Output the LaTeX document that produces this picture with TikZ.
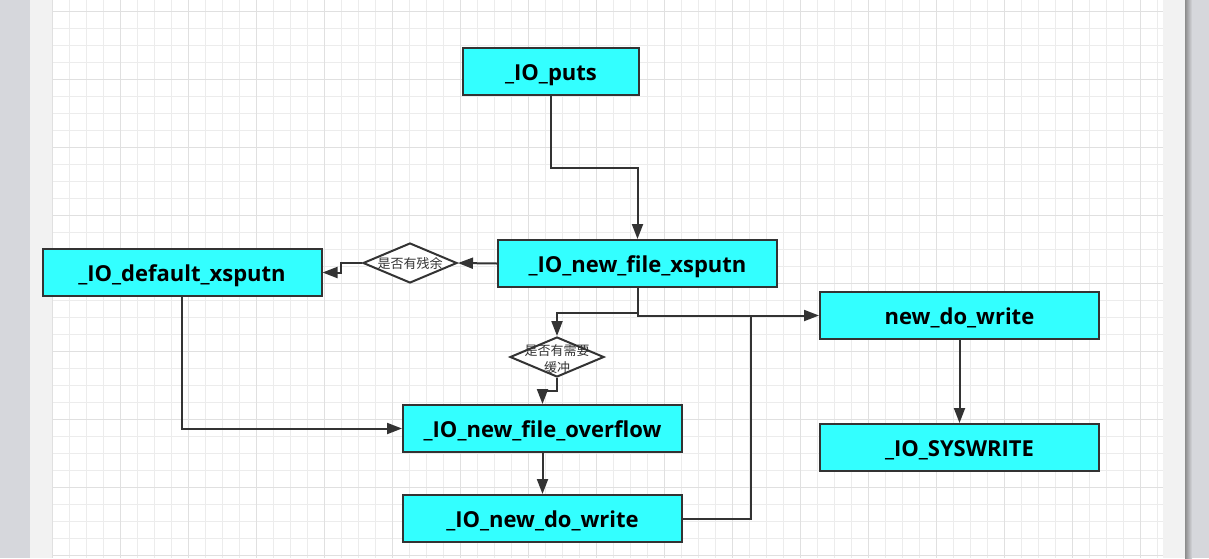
\documentclass[tikz,border=0pt]{standalone}
\usepackage{fontspec}
\setmainfont{Open Sans}
\newfontfamily\cjk{Noto Sans CJK SC}
\usetikzlibrary{shapes.geometric,arrows.meta,calc}
\definecolor{boxfill}{RGB}{51,255,255}
\definecolor{linec}{RGB}{51,51,51}
\definecolor{gridminor}{RGB}{236,236,236}
\definecolor{gridmajor}{RGB}{224,224,224}
\definecolor{sidegray}{RGB}{214,215,220}
\definecolor{strip}{RGB}{242,242,242}
\tikzset{
  fnbox/.style={draw=linec, line width=2pt, fill=boxfill, minimum height=47pt, minimum width=279pt, inner sep=0pt, text height=18pt, text depth=0pt, font=\fontsize{22}{26}\selectfont\bfseries, text=black},
  decision/.style={draw=linec, line width=2pt, fill=white, diamond, minimum width=94pt, minimum height=40pt, inner sep=0pt},
  dlabel/.style={font=\cjk\fontsize{13}{17}\selectfont, text=linec, align=center, inner sep=0pt},
  conn/.style={draw=linec, line width=2pt},
  arr/.style={conn, -{Triangle[length=15pt,width=11pt]}},
}
\begin{document}
\begin{tikzpicture}[x=1pt,y=-1pt]
\useasboundingbox (0,0) rectangle (1209,558);
% background
\fill[sidegray] (0,0) rectangle (30,558);
\fill[strip] (30,0) rectangle (52,558);
\fill[white] (52,0) rectangle (1163,558);
\fill[strip] (1163,0) rectangle (1185,558);
\fill[sidegray] (1185,0) rectangle (1209,558);
\shade[left color=black!45, right color=sidegray] (1185,0) rectangle (1192,558);
% grid
\foreach \i in {0,...,65} {\draw[gridminor, line width=1pt] ({52+17*\i},0) -- ({52+17*\i},558);}
\foreach \j in {0,...,32} {\draw[gridminor, line width=1pt] (52,{11+17*\j}) -- (1163,{11+17*\j});}
\foreach \i in {0,4,...,64} {\draw[gridmajor, line width=1pt] ({52+17*\i},0) -- ({52+17*\i},558);}
\foreach \j in {0,4,...,32} {\draw[gridmajor, line width=1pt] (52,{11+17*\j}) -- (1163,{11+17*\j});}
% nodes
\node[fnbox, minimum width=176pt] (puts) at (551,71.5) {\_IO\_puts};
\node[fnbox] (xsputn) at (637.5,263.5) {\_IO\_new\_file\_xsputn};
\node[fnbox] (default) at (182,272.5) {\_IO\_default\_xsputn};
\node[decision] (d1) at (410,263) {};
\node[dlabel] (d1t) at (d1.center) {是否有残余};
\node[fnbox] (ndw) at (959.5,315.5) {new\_do\_write};
\node[decision] (d2) at (557,357) {};
\node[dlabel] (d2t) at ([yshift=-2pt]d2.center) {是否有需要\\缓冲};
\node[fnbox] (overflow) at (542.5,428.5) {\_IO\_new\_file\_overflow};
\node[fnbox] (iondw) at (542.5,518.5) {\_IO\_new\_do\_write};
\node[fnbox] (sys) at (959.5,447.5) {\_IO\_SYSWRITE};
\coordinate (join) at (751,315.5);
% connectors
\draw[arr] (puts.south) -- ++(0,72) -| (xsputn.north);
\draw[arr] (xsputn.west) -- (d1.east);
\draw[arr] (d1.west) -- ++(-21,0) |- (default.east);
\draw[arr] (xsputn.south) -- ++(0,25) -| (d2.north);
\draw[arr] (xsputn.south) |- (ndw.west);
\draw[arr] (d2.south) -- ++(0,13) -| (overflow.north);
\draw[arr] (default.south) |- (overflow.west);
\draw[arr] (overflow.south) -- (iondw.north);
\draw[conn] (iondw.east) -| (join);
\draw[arr] (ndw.south) -- (sys.north);
\end{tikzpicture}
\end{document}
